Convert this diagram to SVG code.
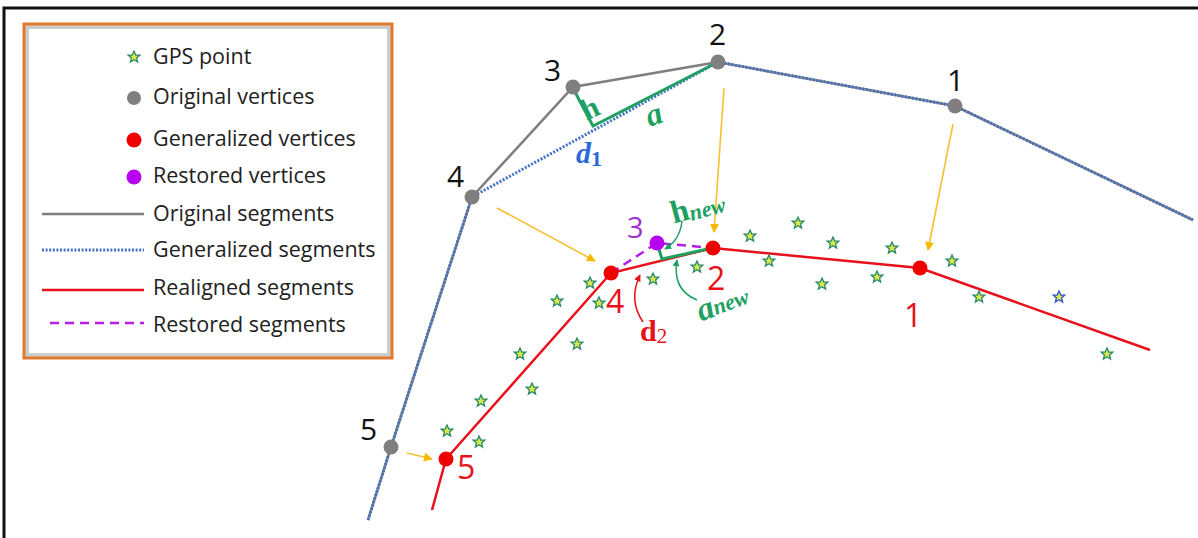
<svg xmlns="http://www.w3.org/2000/svg" width="1198" height="538" viewBox="0 0 1198 538">
<defs>
<style>
.lbl{font-family:"Open Sans","Liberation Sans",sans-serif;font-size:21.5px;fill:#222}
.num{font-family:"Open Sans","Liberation Sans",sans-serif;font-size:30px}
.math{font-family:"Liberation Serif",serif;font-weight:bold}
.orig{fill:none;stroke:#7f7f7f;stroke-width:2.5}
.gen{fill:none;stroke:#4472c4;stroke-width:3;stroke-dasharray:2 1.6}
.real{fill:none;stroke:#e8101a;stroke-width:2.5}
.rest{fill:none;stroke:#b41ee8;stroke-width:2.5;stroke-dasharray:9 6}
.yel{fill:none;stroke:#f7c030;stroke-width:1.6}
.grn{fill:none;stroke:#20a060;stroke-width:3}
.star{fill:#d8e84a;stroke:#2a8a6a;stroke-width:1.3}
</style>
<marker id="ya" viewBox="0 0 10 10" refX="9" refY="5" markerWidth="9" markerHeight="9" markerUnits="userSpaceOnUse" orient="auto"><path d="M0,0 L10,5 L0,10 z" fill="#f5b800"/></marker>
<marker id="ga" viewBox="0 0 10 10" refX="9" refY="5" markerWidth="7" markerHeight="7" markerUnits="userSpaceOnUse" orient="auto"><path d="M0,0 L10,5 L0,10 z" fill="#20a060"/></marker>
<marker id="ra" viewBox="0 0 10 10" refX="9" refY="5" markerWidth="7" markerHeight="7" markerUnits="userSpaceOnUse" orient="auto"><path d="M0,0 L10,5 L0,10 z" fill="#e8101a"/></marker>
<path id="st" d="M0,-6 L1.8,-2 L5.8,-1.9 L2.6,0.9 L3.6,5 L0,2.7 L-3.6,5 L-2.6,0.9 L-5.8,-1.9 L-1.8,-2 z"/>
</defs>
<rect width="1198" height="538" fill="#fff"/>
<path d="M4,538 L4,8 L1198,8" fill="none" stroke="#111" stroke-width="3"/>

<g id="legend">
<rect x="27" y="27" width="362" height="328" fill="none" stroke="#ccc" stroke-width="4"/>
<rect x="24" y="24" width="368" height="334" fill="none" stroke="#e07a2a" stroke-width="3"/>
<use href="#st" x="134" y="57" class="star"/>
<text class="lbl" x="153" y="64">GPS point</text>
<circle cx="134" cy="98" r="7" fill="#7f7f7f"/>
<text class="lbl" x="153" y="104">Original vertices</text>
<circle cx="134" cy="140" r="7.5" fill="#ee0000"/>
<text class="lbl" x="153" y="146">Generalized vertices</text>
<circle cx="134" cy="177" r="7.5" fill="#b800f0"/>
<text class="lbl" x="153" y="183">Restored vertices</text>
<line x1="42" y1="214" x2="144" y2="214" class="orig" stroke-width="2"/>
<text class="lbl" x="153" y="221">Original segments</text>
<line x1="42" y1="250" x2="144" y2="250" class="gen" stroke-width="2"/>
<text class="lbl" x="153" y="257">Generalized segments</text>
<line x1="42" y1="290" x2="144" y2="290" class="real"/>
<text class="lbl" x="153" y="295">Realigned segments</text>
<line x1="50" y1="323" x2="144" y2="323" class="rest"/>
<text class="lbl" x="153" y="332">Restored segments</text>
</g>

<g id="connectors">
<polyline class="orig" points="368,520 391,447 472,197 573,87 718,62 955,106 1193,220"/>
<polyline class="gen" points="368,520 391,447 472,197 718,62 955,106 1193,220"/>
<polyline class="real" points="432,510 446,459 611,273 713,248 920,268 1150,350"/>
<polyline class="rest" points="611,273 657,243 713,248"/>
<polyline class="grn" points="575,92 593,126 718,62"/>
<polyline class="grn" points="657,243 662,259 708,249"/>
<line class="yel" x1="724" y1="88" x2="714" y2="232" marker-end="url(#ya)"/>
<line class="yel" x1="953" y1="124" x2="928" y2="250" marker-end="url(#ya)"/>
<line class="yel" x1="497" y1="208" x2="595" y2="261" marker-end="url(#ya)"/>
<line class="yel" x1="407" y1="453" x2="432" y2="459" marker-end="url(#ya)"/>
<path d="M682,221 Q680,240 665,249" fill="none" stroke="#20a060" stroke-width="1.5" marker-end="url(#ga)"/>
<path d="M697,300 Q672,290 677,260" fill="none" stroke="#20a060" stroke-width="1.5" marker-end="url(#ga)"/>
<path d="M643,322 Q628,300 640,275" fill="none" stroke="#e8101a" stroke-width="1.5" marker-end="url(#ra)"/>
</g>

<g id="gps-points" class="star">
<use href="#st" x="750" y="236"/><use href="#st" x="798" y="223"/><use href="#st" x="769" y="261"/>
<use href="#st" x="833" y="243"/><use href="#st" x="822" y="284"/><use href="#st" x="892" y="248"/>
<use href="#st" x="877" y="277"/><use href="#st" x="952" y="261"/><use href="#st" x="979" y="297"/>
<use href="#st" x="1059" y="297" style="stroke:#3355cc"/><use href="#st" x="1107" y="354"/>
<use href="#st" x="697" y="267"/><use href="#st" x="653" y="279"/><use href="#st" x="590" y="283"/>
<use href="#st" x="599" y="303"/><use href="#st" x="557" y="301"/><use href="#st" x="577" y="344"/>
<use href="#st" x="520" y="354"/><use href="#st" x="532" y="389"/><use href="#st" x="481" y="401"/>
<use href="#st" x="447" y="431"/><use href="#st" x="479" y="442"/>
</g>

<g id="original-vertices" fill="#7f7f7f">
<circle cx="391" cy="447" r="7.5"/><circle cx="472" cy="197" r="7.5"/><circle cx="573" cy="87" r="7.5"/>
<circle cx="718" cy="62" r="7.5"/><circle cx="955" cy="106" r="7.5"/>
</g>
<g id="original-labels" class="num" fill="#111">
<text x="947" y="91">1</text><text x="709" y="45">2</text><text x="544" y="81">3</text>
<text x="447" y="187">4</text><text x="360" y="440">5</text>
</g>

<g id="generalized-vertices" fill="#ee0000">
<circle cx="446" cy="459" r="7.5"/><circle cx="611" cy="273" r="7.5"/><circle cx="713" cy="248" r="7.5"/>
<circle cx="920" cy="268" r="7.5"/>
</g>
<g id="generalized-labels" class="num" fill="#e8101a" style="font-size:32px">
<text x="904" y="327">1</text><text x="707" y="290">2</text><text x="606" y="313">4</text><text x="457" y="479">5</text>
</g>

<g id="restored-vertex">
<circle cx="657" cy="243" r="7.5" fill="#b800f0"/>
<text class="num" x="627" y="238" fill="#a030d0" style="font-size:29px">3</text>
</g>

<g id="annotations" class="math">
<text x="582" y="116" fill="#20a060" font-size="30" transform="rotate(-25 595 108)">h</text>
<text x="646" y="124" fill="#20a060" font-size="32" font-style="italic" transform="rotate(-20 656 115)">a</text>
<text x="576" y="163" fill="#2a6ad8" font-size="30" font-style="italic">d<tspan font-size="22" font-style="normal" dy="3">1</tspan></text>
<g transform="rotate(-15 700 205)"><text x="670" y="216" fill="#20a060" font-size="32">h<tspan font-size="22" font-style="italic" dy="2">new</tspan></text></g>
<g transform="rotate(-20 725 300)"><text x="695" y="312" fill="#20a060" font-size="33" font-style="italic">a<tspan font-size="22" dy="-1">new</tspan></text></g>
<text x="640" y="341" fill="#e8101a" font-size="30">d<tspan font-size="21" font-weight="normal" dy="2">2</tspan></text>
</g>
</svg>
